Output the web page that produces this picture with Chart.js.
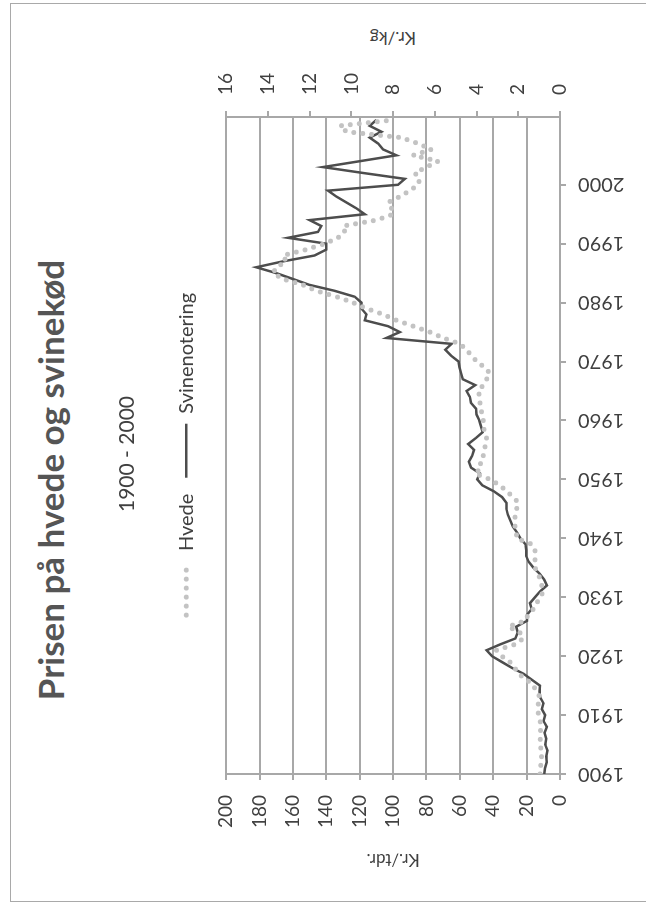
<!DOCTYPE html>
<html>
<head>
<meta charset="utf-8">
<script src="https://cdn.jsdelivr.net/npm/chart.js@4.4.1/dist/chart.umd.min.js"></script>
<style>
  html, body { margin: 0; padding: 0; background: #ffffff; overflow: hidden; width: 646px; height: 908px; }
  #page {
    position: absolute; left: 0; top: 0; width: 908px; height: 646px;
    transform-origin: 0 0; transform: translate(0px, 908px) rotate(-90deg);
    background: #ffffff;
  }
  #frame { position: absolute; left: 6px; top: 10px; width: 899px; height: 700px; border: 1.5px solid #a9a9a9; box-sizing: border-box; }
  #title { position: absolute; left: -26px; top: 29px; width: 908px; text-align: center;
    font-family: Lato, "Open Sans", sans-serif; font-weight: bold; font-size: 35px; line-height: 42px; color: #555555; }
  #y2title { position: absolute; left: 870px; top: 393px; transform: translate(-50%, -50%) rotate(-90deg);
    font-family: Lato, sans-serif; font-size: 17px; color: #404040; white-space: nowrap; }
  #c { position: absolute; left: 0; top: 0; }
</style>
</head>
<body>
<div id="page">
  <div id="frame"></div>
  <div id="title">Prisen på hvede og svinekød</div>
  <div id="y2title">Kr./kg</div>
  <canvas id="c" width="908" height="646" style="width:908px;height:646px"></canvas>
</div>
<script>
// ---- data ----
const years = [1900,1901,1902,1903,1904,1905,1906,1907,1908,1909,
  1910,1911,1912,1913,1914,1915,1916,1917,1918,1919,
  1920,1921,1922,1923,1924,1925,1926,1927,1928,1929,
  1930,1931,1932,1933,1934,1935,1936,1937,1938,1939,
  1940,1941,1942,1943,1944,1945,1946,1947,1948,1949,
  1950,1951,1952,1953,1954,1955,1956,1957,1958,1959,
  1960,1961,1962,1963,1964,1965,1966,1967,1968,1969,
  1970,1971,1972,1973,1974,1975,1976,1977,1978,1979,
  1980,1981,1982,1983,1984,1985,1986,1987,1988,1989,
  1990,1991,1992,1993,1994,1995,1996,1997,1998,1999,
  2000,2001,2002,2003,2004,2005,2006,2007,2008,2009,
  2010,2011];

// Hvede, kr./tdr. (left axis)
const hvede = [12,11,12,11,12,11,12,12,11,12,
  13,13,13,12,14,16,20,25,27,30,
  35,38,27,22,24,31,21,19,16,14,
  12,10,11,12,13,15,15,15,15,17,
  26,26,27,27,27,26,25,28,32,36,
  42,51,47,48,46,45,45,44,45,46,
  46,47,47,48,48,49,46,44,42,45,
  50,53,56,60,70,78,88,98,106,116,
  124,134,146,154,166,172,170,164,166,152,
  141,133,129,130,110,100,101,103,96,90,
  85,84,87,80,73,88,77,85,95,128,
  132,100];

// Svinenotering, kr./kg (right axis)
const svin = [0.76,0.72,0.64,0.66,0.60,0.71,0.66,0.74,0.63,0.79,
  0.71,0.87,0.79,0.95,0.98,0.96,1.35,1.74,2.30,2.78,
  3.26,3.52,2.86,2.14,2.03,2.10,1.58,1.58,1.36,1.44,
  1.20,0.95,0.63,0.76,0.98,1.27,1.50,1.62,1.62,1.66,
  1.90,2.06,2.26,2.38,2.50,2.57,2.57,2.78,3.18,3.73,
  3.97,3.84,4.26,4.37,4.21,4.12,4.40,4.04,3.71,3.79,
  3.87,4.00,4.03,4.27,4.32,4.48,4.06,4.66,4.74,4.82,
  4.86,5.22,5.50,5.20,8.32,7.68,8.24,9.36,9.28,9.52,
  9.52,9.84,10.80,12.00,12.80,13.60,14.56,13.28,11.76,11.20,
  11.20,13.04,11.60,11.44,12.00,9.36,9.76,10.24,10.72,11.12,
  7.76,7.44,9.44,11.36,9.60,7.84,8.48,8.72,9.12,8.56,
  9.12,8.80];

const leftTicks = { min: 0, max: 200, step: 20 };
const rightTicks = { min: 0, max: 16, step: 2 };
const yearTicks = { min: 1900, max: 2011.5, step: 10, lastLabel: 2000 };

// ---- chart ----
const gridCol = '#a8a8a8';
const txtCol = '#404040';
const FONT = 'Lato, "Open Sans", sans-serif';

new Chart(document.getElementById('c'), {
  type: 'line',
  data: {
    datasets: [
      {
        label: 'Hvede',
        data: years.map((y, i) => ({ x: y, y: hvede[i] })),
        yAxisID: 'y',
        borderColor: '#c3c3c3',
        backgroundColor: '#c3c3c3',
        borderWidth: 5,
        borderDash: [0, 9],
        borderCapStyle: 'round',
        pointRadius: 0,
        tension: 0
      },
      {
        label: 'Svinenotering',
        data: years.map((y, i) => ({ x: y, y: svin[i] })),
        yAxisID: 'y2',
        borderColor: '#4d4d4d',
        backgroundColor: '#4d4d4d',
        borderWidth: 2.5,
        borderDash: [],
        borderCapStyle: 'butt',
        pointRadius: 0,
        tension: 0
      }
    ]
  },
  options: {
    responsive: false,
    animation: false,
    layout: { padding: { top: 115, left: 20, right: 20, bottom: 10 } },
    plugins: {
      subtitle: {
        display: true, text: '1900 - 2000', color: txtCol, weight: 1500,
        font: { family: FONT, size: 21, weight: 'normal', lineHeight: 1.2 },
        padding: { top: 0, bottom: 20 }
      },
      legend: {
        display: true, position: 'top', weight: 1000,
        labels: {
          usePointStyle: true, pointStyle: 'line', pointStyleWidth: 54,
          color: txtCol, padding: 16,
          font: { family: FONT, size: 20 },
          generateLabels: (chart) => chart.data.datasets.map((ds, i) => ({
            text: ds.label,
            datasetIndex: i,
            hidden: false,
            fillStyle: ds.borderColor,
            strokeStyle: ds.borderColor,
            lineWidth: ds.borderWidth,
            lineDash: ds.borderDash,
            lineCap: ds.borderCapStyle,
            pointStyle: 'line',
            fontColor: txtCol
          }))
        }
      },
      title: {
        display: true, text: '', weight: 500,
        font: { size: 10, lineHeight: 1 },
        padding: { top: 0, bottom: 10 }
      },
      tooltip: { enabled: false }
    },
    scales: {
      x: {
        type: 'linear',
        min: yearTicks.min, max: yearTicks.max,
        afterBuildTicks: (axis) => { axis.ticks = axis.ticks.filter(t => t.value <= yearTicks.lastLabel); },
        afterFit: (axis) => { axis.height = 76; },
        ticks: {
          stepSize: yearTicks.step, autoSkip: false, minRotation: 90, maxRotation: 90,
          padding: 12, color: txtCol, font: { family: FONT, size: 20 },
          callback: (v) => String(v)
        },
        grid: { drawOnChartArea: false, drawTicks: true, tickLength: 6, color: gridCol, lineWidth: 2 },
        border: { display: true, color: gridCol, width: 2 }
      },
      y: {
        type: 'linear', position: 'left',
        min: leftTicks.min, max: leftTicks.max,
        afterFit: (axis) => { axis.width = 114; },
        ticks: { stepSize: leftTicks.step, padding: 15, color: txtCol, font: { family: FONT, size: 19 } },
        grid: { color: gridCol, lineWidth: 2, tickLength: 6 },
        border: { display: true, color: gridCol, width: 2 },
        title: {
          display: true, text: 'Kr./tdr.', color: txtCol,
          font: { family: FONT, size: 17, lineHeight: 1.2 },
          padding: { top: 18, bottom: 0 }
        }
      },
      y2: {
        type: 'linear', position: 'right',
        min: rightTicks.min, max: rightTicks.max,
        afterFit: (axis) => { axis.width = 97; },
        ticks: { stepSize: rightTicks.step, padding: 16, color: txtCol, font: { family: FONT, size: 19 } },
        grid: { drawOnChartArea: false, color: gridCol, lineWidth: 2, tickLength: 6 },
        border: { display: true, color: gridCol, width: 2 }
      }
    }
  }
});
</script>
</body>
</html>
